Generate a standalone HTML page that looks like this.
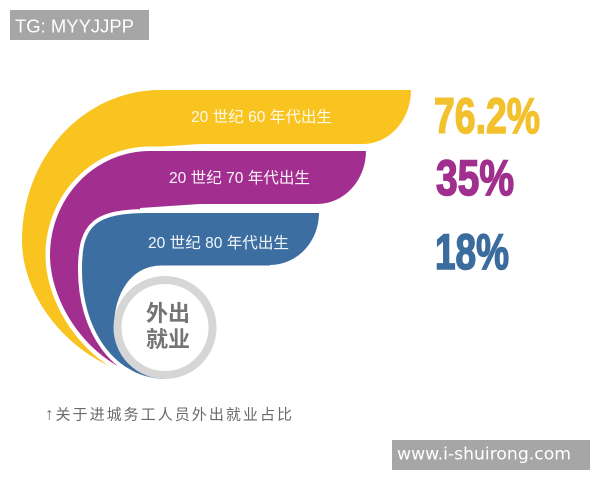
<!DOCTYPE html>
<html>
<head>
<meta charset="utf-8">
<style>
  html,body{margin:0;padding:0;background:#fff;}
  svg{display:block;}
</style>
</head>
<body>
<svg width="600" height="480" viewBox="0 0 600 480" xmlns="http://www.w3.org/2000/svg">
  <rect x="0" y="0" width="600" height="480" fill="#ffffff"/>

  <!-- TG label -->
  <rect x="10" y="10" width="139" height="30" fill="#a6a6a6"/>
  <text x="15" y="32.5" font-family="Liberation Sans, sans-serif" font-size="18.5" fill="#ffffff" textLength="119" lengthAdjust="spacingAndGlyphs">TG: MYYJJPP</text>

  <!-- Yellow band -->
  <path d="M165,379 C90,378 22,310 22,240 A138,150 0 0 1 160,90 L363,90 L411,90 A48,54 0 0 1 363,144 L200,144 L140,148 L132,250 L158,379 Z" fill="#f9c320"/>

  <!-- Purple gap + band -->
  <path d="M165,379 C100,378 50,310 50,255 A100,104 0 0 1 150,151 L366,151 A49,53 0 0 1 317,204" fill="none" stroke="#ffffff" stroke-width="9"/>
  <path d="M165,379 C100,378 50,310 50,255 A100,104 0 0 1 150,151 L366,151 A49,53 0 0 1 317,204 L200,204 L140,208 L140,300 Z" fill="#a22f8f"/>

  <!-- Blue gap + band -->
  <path d="M165,379 C115,378 82,330 82,270 C82,225 95,213 150,213 L319,213 A49,52 0 0 1 270,265" fill="none" stroke="#ffffff" stroke-width="8"/>
  <path d="M165,379 C115,378 82,330 82,270 C82,225 95,213 150,213 L319,213 A49,52 0 0 1 270,265 L270,330 Z" fill="#3c6ea1"/>

  <!-- White area around circle (blue inner edge) -->
  <path d="M290,265.5 L162,265.5 C130,265.5 114,295 114,327 A51,51 0 0 0 165,378 L290,378 Z" fill="#ffffff"/>

  <!-- Circle -->
  <circle cx="165" cy="327.5" r="47.5" fill="#ffffff" stroke="#d6d6d6" stroke-width="8"/>
  <text x="168" y="321" text-anchor="middle" font-family="Liberation Sans, Noto Sans CJK SC, sans-serif" font-weight="bold" font-size="22" fill="#747474">外出</text>
  <text x="168" y="347" text-anchor="middle" font-family="Liberation Sans, Noto Sans CJK SC, sans-serif" font-weight="bold" font-size="22" fill="#747474">就业</text>

  <!-- Band labels -->
  <text x="191" y="122" font-family="Liberation Sans, Noto Sans CJK SC, sans-serif" font-size="15.5" fill="#fffbea" textLength="141" lengthAdjust="spacingAndGlyphs">20 世纪 60 年代出生</text>
  <text x="169" y="183" font-family="Liberation Sans, Noto Sans CJK SC, sans-serif" font-size="15.5" fill="#fdf3fb" textLength="141" lengthAdjust="spacingAndGlyphs">20 世纪 70 年代出生</text>
  <text x="148" y="248" font-family="Liberation Sans, Noto Sans CJK SC, sans-serif" font-size="15.5" fill="#f3f7fb" textLength="141" lengthAdjust="spacingAndGlyphs">20 世纪 80 年代出生</text>

  <!-- Percentages -->
  <text x="434" y="133" font-family="Liberation Sans Narrow, Liberation Sans, sans-serif" font-weight="bold" font-size="50" fill="#f4c12e" stroke="#f4c12e" stroke-width="1.6" textLength="106" lengthAdjust="spacingAndGlyphs">76.2%</text>
  <text x="436" y="195" font-family="Liberation Sans Narrow, Liberation Sans, sans-serif" font-weight="bold" font-size="50" fill="#a02f8d" stroke="#a02f8d" stroke-width="1.6" textLength="78" lengthAdjust="spacingAndGlyphs">35%</text>
  <text x="435" y="269" font-family="Liberation Sans Narrow, Liberation Sans, sans-serif" font-weight="bold" font-size="50" fill="#3b6c9e" stroke="#3b6c9e" stroke-width="1.6" textLength="74" lengthAdjust="spacingAndGlyphs">18%</text>

  <!-- Caption -->
  <text x="45" y="419.5" font-family="Liberation Sans, Noto Sans CJK SC, sans-serif" font-size="15" fill="#6a6a6a" textLength="247" lengthAdjust="spacing"><tspan font-size="17">↑</tspan>关于进城务工人员外出就业占比</text>

  <!-- Watermark -->
  <rect x="392" y="440" width="198" height="30" fill="#a6a6a6"/>
  <text x="397" y="459.5" font-family="DejaVu Sans, sans-serif" font-size="17" fill="#ffffff" textLength="174" lengthAdjust="spacingAndGlyphs">www.i-shuirong.com</text>
</svg>
</body>
</html>
